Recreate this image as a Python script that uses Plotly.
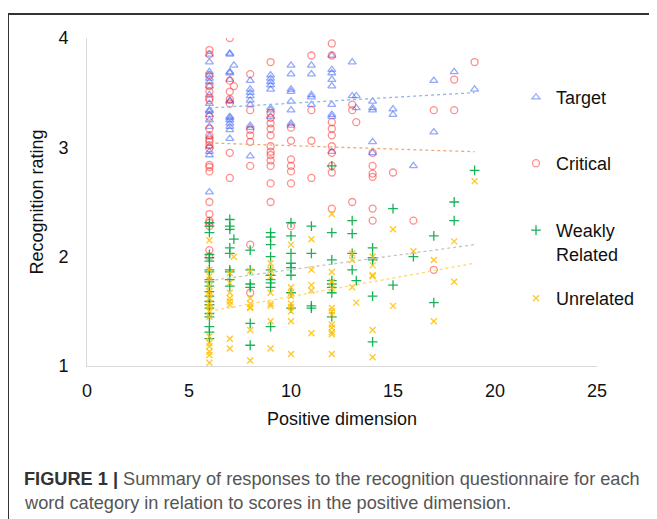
import plotly.graph_objects as go

# ---------------- data ----------------
target_x = [6]*19 + [7]*14 + [7.2] + [8]*9 + [9]*8 + [10]*8 + [11]*5 + [12]*9 + [13]*2 + [13.2]*2 + [14]*5 + [15]*2 + [16] + [17]*2 + [18] + [19]
target_y = [3.85, 3.78, 3.69, 3.66, 3.63, 3.60, 3.56, 3.48, 3.40, 3.34, 3.33, 3.30, 3.25, 3.19, 3.10, 3.01, 2.96, 2.93, 2.59,
            3.86, 3.85, 3.69, 3.68, 3.62, 3.43, 3.42, 3.28, 3.27, 3.25, 3.22, 3.19, 3.16, 3.08,
            3.75,
            3.61, 3.53, 3.50, 3.47, 3.43, 3.39, 3.20, 3.18, 2.92,
            3.66, 3.63, 3.60, 3.57, 3.53, 3.36, 3.34, 3.28,
            3.75, 3.67, 3.53, 3.51, 3.42, 3.34, 3.22, 3.20,
            3.75, 3.67, 3.48, 3.46, 3.39,
            3.84, 3.71, 3.68, 3.62, 3.56, 3.39, 3.30, 3.28, 2.96,
            3.78, 3.47,
            3.47, 3.36,
            3.42, 3.36, 3.34, 3.05, 2.95,
            3.35, 3.30,
            2.83,
            3.61, 3.14,
            3.69,
            3.53]

critical_x = [6]*24 + [7]*7 + [7.2] + [8]*8 + [9]*13 + [10]*7 + [11]*4 + [12]*10 + [13]*3 + [13.2] + [14]*6 + [15] + [16] + [17]*2 + [18]*2 + [19]
critical_y = [3.89, 3.85, 3.66, 3.56, 3.51, 3.45, 3.43, 3.28, 3.17, 3.11, 3.07, 3.05, 3.02, 2.99, 2.84, 2.82, 2.78,
              2.50, 2.39, 2.33, 2.31, 2.28, 2.06, 2.00,
              4.00, 3.61, 3.51, 3.44, 3.40, 2.95, 2.72,
              3.56,
              3.67, 3.34, 3.16, 3.11, 3.05, 2.83, 2.11, 1.67,
              3.78, 3.31, 3.27, 3.22, 3.17, 3.11, 3.01, 2.96, 2.93, 2.88, 2.83, 2.67, 2.50,
              3.18, 3.06, 2.89, 2.83, 2.78, 2.67, 2.28,
              3.84, 3.34, 3.06, 2.72,
              3.95, 3.84, 3.23, 3.17, 3.11, 3.01, 2.95, 2.83, 2.77, 2.44,
              3.39, 3.34, 2.50,
              3.23,
              2.95, 2.83, 2.76, 2.73, 2.44, 2.33,
              2.77,
              2.33,
              3.34, 1.88,
              3.62, 3.34,
              3.78]

weak_x = [6]*21 + [7]*9 + [7.2] + [8]*6 + [9]*10 + [10]*8 + [11]*4 + [12]*8 + [13]*4 + [13.2] + [14]*5 + [15]*2 + [16] + [17]*2 + [18]*2 + [19]
weak_y = [2.31, 2.28, 2.22, 2.02, 1.99, 1.96, 1.88, 1.86, 1.79, 1.77, 1.73, 1.68, 1.64, 1.59, 1.56, 1.53, 1.48, 1.45, 1.36, 1.31, 1.25,
          2.34, 2.28, 2.25, 2.08, 2.03, 1.88, 1.86, 1.79, 1.73,
          2.16,
          2.06, 1.88, 1.75, 1.72, 1.39, 1.19,
          2.22, 2.18, 2.11, 2.00, 1.88, 1.83, 1.79, 1.76, 1.72, 1.36,
          2.31, 2.19, 2.03, 1.94, 1.90, 1.83, 1.67, 1.53,
          2.28, 2.03, 1.55, 1.53,
          2.83, 2.22, 1.97, 1.78, 1.75, 1.72, 1.67, 1.45,
          2.33, 2.21, 2.03, 1.88,
          1.78,
          2.08, 1.99, 1.97, 1.64, 1.22,
          2.44, 1.74,
          2.00,
          2.19, 1.58,
          2.50, 2.33,
          2.79]

unrel_x = [6]*18 + [7]*8 + [7.2] + [8]*7 + [9]*8 + [10]*9 + [11]*5 + [12]*12 + [13]*3 + [13.2] + [14]*6 + [15]*2 + [16] + [17]*2 + [18]*2 + [19]
unrel_y = [2.15, 1.88, 1.82, 1.79, 1.73, 1.68, 1.65, 1.62, 1.57, 1.54, 1.50, 1.45, 1.27, 1.21, 1.18, 1.13, 1.10, 1.03,
           1.85, 1.76, 1.67, 1.62, 1.59, 1.56, 1.25, 1.16,
           2.00,
           1.87, 1.62, 1.57, 1.54, 1.53, 1.33, 1.05,
           1.94, 1.88, 1.82, 1.67, 1.57, 1.55, 1.41, 1.16,
           2.11, 1.72, 1.67, 1.64, 1.57, 1.54, 1.50, 1.41, 1.11,
           2.16, 1.88, 1.74, 1.69, 1.30,
           2.39, 1.86, 1.77, 1.71, 1.53, 1.50, 1.47, 1.38, 1.35, 1.31, 1.29, 1.11,
           2.03, 1.97, 1.72,
           1.58,
           2.00, 1.92, 1.83, 1.82, 1.33, 1.08,
           2.25, 1.55,
           2.05,
           1.97, 1.41,
           2.14, 1.77,
           2.69]

# linear trend lines (end points)
trend_x = [6, 19]
target_trend = [3.36, 3.50]
critical_trend = [3.04, 2.96]
weak_trend = [1.78, 2.11]
unrel_trend = [1.50, 1.94]

x_ticks = [0, 5, 10, 15, 20, 25]
y_ticks = [1, 2, 3, 4]

series_names = ["Target", "Critical", "Weakly<br>Related", "Unrelated"]

# ---------------- figure ----------------
fig = go.Figure()

# the page body has an 8px margin, so the figure is drawn 8px smaller and
# positions below are given in window pixels and shifted by OFF
OFF = 8
W, H = 657 - OFF, 519 - OFF
L, T = 87 - OFF, 38 - OFF
R = W - (597 - OFF)
B = H - (366 - OFF)
pw, ph = W - L - R, H - T - B

def px(xp):
    return (xp - OFF - L) / pw

def py(yp):
    return (H - B - (yp - OFF)) / ph

styles = [
    (target_x, target_y, "triangle-up-open", "rgba(60,100,245,0.55)", 7),
    (critical_x, critical_y, "circle-open", "rgba(255,30,30,0.5)", 7),
    (weak_x, weak_y, "cross-thin", "rgba(0,170,70,0.9)", 7),
    (unrel_x, unrel_y, "x-thin", "rgba(255,190,0,0.85)", 6),
]
legend_ids = ["legend", "legend2", "legend3", "legend4"]
legend_tops = [79, 145, 212, 280]

for i, (xs, ys, sym, col, sz) in enumerate(styles):
    fig.add_trace(go.Scatter(
        x=xs, y=ys, mode="markers", name=series_names[i], legend=legend_ids[i],
        marker=dict(symbol=sym, size=sz, color=col, line=dict(color=col, width=1.3)),
    ))

trend_styles = [
    (target_trend, "#8DB8E8"),
    (critical_trend, "#F2A872"),
    (weak_trend, "#C4C4C4"),
    (unrel_trend, "#FFD966"),
]
for ys, col in trend_styles:
    fig.add_trace(go.Scatter(
        x=trend_x, y=ys, mode="lines", showlegend=False, hoverinfo="skip",
        line=dict(color=col, width=1.3, dash="dot"),
    ))

legend_common = dict(xanchor="left", yanchor="top", font=dict(size=18, color="#111"),
                     valign="top", bgcolor="rgba(0,0,0,0)")

fig.update_layout(
    width=W, height=H,
    margin=dict(l=L, r=R, t=T, b=B, autoexpand=False),
    paper_bgcolor="white", plot_bgcolor="white",
    font=dict(family="Liberation Sans, Arial, sans-serif", size=18, color="#111"),
    showlegend=True,
    legend=dict(x=px(516), y=py(legend_tops[0]), **legend_common),
    legend2=dict(x=px(516), y=py(legend_tops[1]), **legend_common),
    legend3=dict(x=px(516), y=py(legend_tops[2]), **legend_common),
    legend4=dict(x=px(516), y=py(legend_tops[3]), **legend_common),
    xaxis=dict(range=[0, 25], tickvals=x_ticks, showgrid=False, zeroline=False, automargin=False,
               showline=True, linecolor="#D9D9D9", linewidth=1, ticks="",
               tickfont=dict(size=18), ticklabelstandoff=8,
               title=dict(text="Positive dimension", font=dict(size=18), standoff=12)),
    yaxis=dict(range=[1, 4], tickvals=y_ticks, showgrid=False, zeroline=False, automargin=False,
               showline=True, linecolor="#D9D9D9", linewidth=1, ticks="",
               tickfont=dict(size=18), ticklabelstandoff=14,
               title=dict(text="Recognition rating", font=dict(size=18), standoff=10)),
)

# figure frame (left and top edges)
fig.add_shape(type="line", xref="paper", yref="paper", x0=px(8), x1=px(8), y0=py(14), y1=py(540),
              line=dict(color="#333", width=2))
fig.add_shape(type="line", xref="paper", yref="paper", x0=px(8), x1=px(680), y0=py(14), y1=py(14),
              line=dict(color="#333", width=2))

# caption
fig.add_annotation(xref="paper", yref="paper", x=px(22), y=py(479), xanchor="left", yanchor="middle",
                   showarrow=False, align="left",
                   text="<b><span style='color:#333'>FIGURE 1 |</span></b> Summary of responses to the recognition questionnaire for each",
                   font=dict(size=18.2, color="#555", family="Liberation Sans, Arial, sans-serif"))
fig.add_annotation(xref="paper", yref="paper", x=px(22), y=py(503), xanchor="left", yanchor="middle",
                   showarrow=False, align="left",
                   text="word category in relation to scores in the positive dimension.",
                   font=dict(size=18.2, color="#555", family="Liberation Sans, Arial, sans-serif"))

fig.write_html("out.html")
